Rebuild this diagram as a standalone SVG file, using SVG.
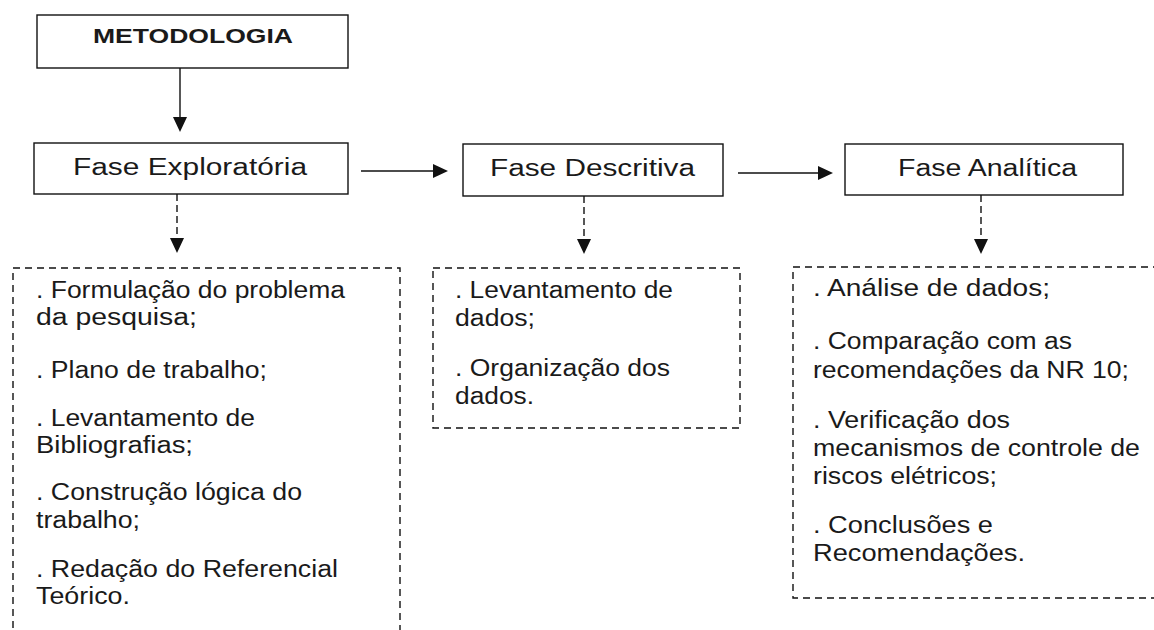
<svg xmlns="http://www.w3.org/2000/svg" width="1154" height="630" viewBox="0 0 1154 630">
<style>
.box{fill:#fff;stroke:#111;stroke-width:1.4}
.dbox{fill:none;stroke:#111;stroke-width:1.4;stroke-dasharray:7 5}
.title{font-family:"Liberation Sans",Arial,sans-serif;font-size:23px;fill:#1a1a1a}
.bold{font-weight:bold;font-size:21px}
.body{font-family:"Liberation Sans",Arial,sans-serif;font-size:23px;fill:#1a1a1a}
.conn{stroke:#111;stroke-width:1.4;fill:none}
.dash{stroke-dasharray:7 4}
</style>
<defs>
<marker id="ah" markerUnits="userSpaceOnUse" markerWidth="16" markerHeight="16" refX="4" refY="7" orient="auto">
<path d="M0,0 L15,7 L0,14 Z" fill="#111"/>
</marker>
</defs>
<rect width="1154" height="630" fill="#fff"/>
<g id="connectors">
<line class="conn" x1="180" y1="68" x2="180" y2="121" marker-end="url(#ah)"/>
<line class="conn" x1="361" y1="171" x2="437" y2="171" marker-end="url(#ah)"/>
<line class="conn" x1="738" y1="173" x2="822" y2="173" marker-end="url(#ah)"/>
<line class="conn dash" x1="177" y1="194" x2="177" y2="242" marker-end="url(#ah)"/>
<line class="conn dash" x1="584" y1="196" x2="584" y2="243" marker-end="url(#ah)"/>
<line class="conn dash" x1="981" y1="195" x2="981" y2="243" marker-end="url(#ah)"/>
</g>
<g id="metodologia">
<rect class="box" x="37" y="15" width="311" height="53"/>
<text class="title bold" x="93" y="43" textLength="200" lengthAdjust="spacingAndGlyphs">METODOLOGIA</text>
</g>
<g id="fase-exploratoria">
<rect class="box" x="34" y="143" width="314" height="51"/>
<text class="title" x="73" y="175" textLength="234" lengthAdjust="spacingAndGlyphs">Fase Exploratória</text>
</g>
<g id="fase-descritiva">
<rect class="box" x="463" y="144" width="260" height="52"/>
<text class="title" x="490" y="176" textLength="205" lengthAdjust="spacingAndGlyphs">Fase Descritiva</text>
</g>
<g id="fase-analitica">
<rect class="box" x="845" y="144" width="278" height="51"/>
<text class="title" x="898" y="176" textLength="179" lengthAdjust="spacingAndGlyphs">Fase Analítica</text>
</g>
<g id="lista-exploratoria">
<path class="dbox" d="M13,640 V268 H400 V640"/>
<text class="body" x="36" y="298" textLength="309" lengthAdjust="spacingAndGlyphs">. Formulação do problema</text>
<text class="body" x="36" y="325" textLength="161" lengthAdjust="spacingAndGlyphs">da pesquisa;</text>
<text class="body" x="36" y="378" textLength="231" lengthAdjust="spacingAndGlyphs">. Plano de trabalho;</text>
<text class="body" x="36" y="426" textLength="219" lengthAdjust="spacingAndGlyphs">. Levantamento de</text>
<text class="body" x="36" y="453" textLength="157" lengthAdjust="spacingAndGlyphs">Bibliografias;</text>
<text class="body" x="36" y="500" textLength="266" lengthAdjust="spacingAndGlyphs">. Construção lógica do</text>
<text class="body" x="36" y="528" textLength="104" lengthAdjust="spacingAndGlyphs">trabalho;</text>
<text class="body" x="36" y="577" textLength="302" lengthAdjust="spacingAndGlyphs">. Redação do Referencial</text>
<text class="body" x="36" y="604" textLength="94" lengthAdjust="spacingAndGlyphs">Teórico.</text>
</g>
<g id="lista-descritiva">
<rect class="dbox" x="433" y="268" width="307" height="160"/>
<text class="body" x="455" y="298" textLength="218" lengthAdjust="spacingAndGlyphs">. Levantamento de</text>
<text class="body" x="455" y="326" textLength="80" lengthAdjust="spacingAndGlyphs">dados;</text>
<text class="body" x="455" y="376" textLength="215" lengthAdjust="spacingAndGlyphs">. Organização dos</text>
<text class="body" x="455" y="404" textLength="79" lengthAdjust="spacingAndGlyphs">dados.</text>
</g>
<g id="lista-analitica">
<path class="dbox" d="M1160,267 H793 V598 H1160"/>
<text class="body" x="813" y="296" textLength="237" lengthAdjust="spacingAndGlyphs">. Análise de dados;</text>
<text class="body" x="813" y="349" textLength="259" lengthAdjust="spacingAndGlyphs">. Comparação com as</text>
<text class="body" x="813" y="378" textLength="316" lengthAdjust="spacingAndGlyphs">recomendações da NR 10;</text>
<text class="body" x="813" y="428" textLength="197" lengthAdjust="spacingAndGlyphs">. Verificação dos</text>
<text class="body" x="813" y="456" textLength="327" lengthAdjust="spacingAndGlyphs">mecanismos de controle de</text>
<text class="body" x="813" y="484" textLength="184" lengthAdjust="spacingAndGlyphs">riscos elétricos;</text>
<text class="body" x="813" y="533" textLength="180" lengthAdjust="spacingAndGlyphs">. Conclusões e</text>
<text class="body" x="813" y="561" textLength="212" lengthAdjust="spacingAndGlyphs">Recomendações.</text>
</g>
</svg>
